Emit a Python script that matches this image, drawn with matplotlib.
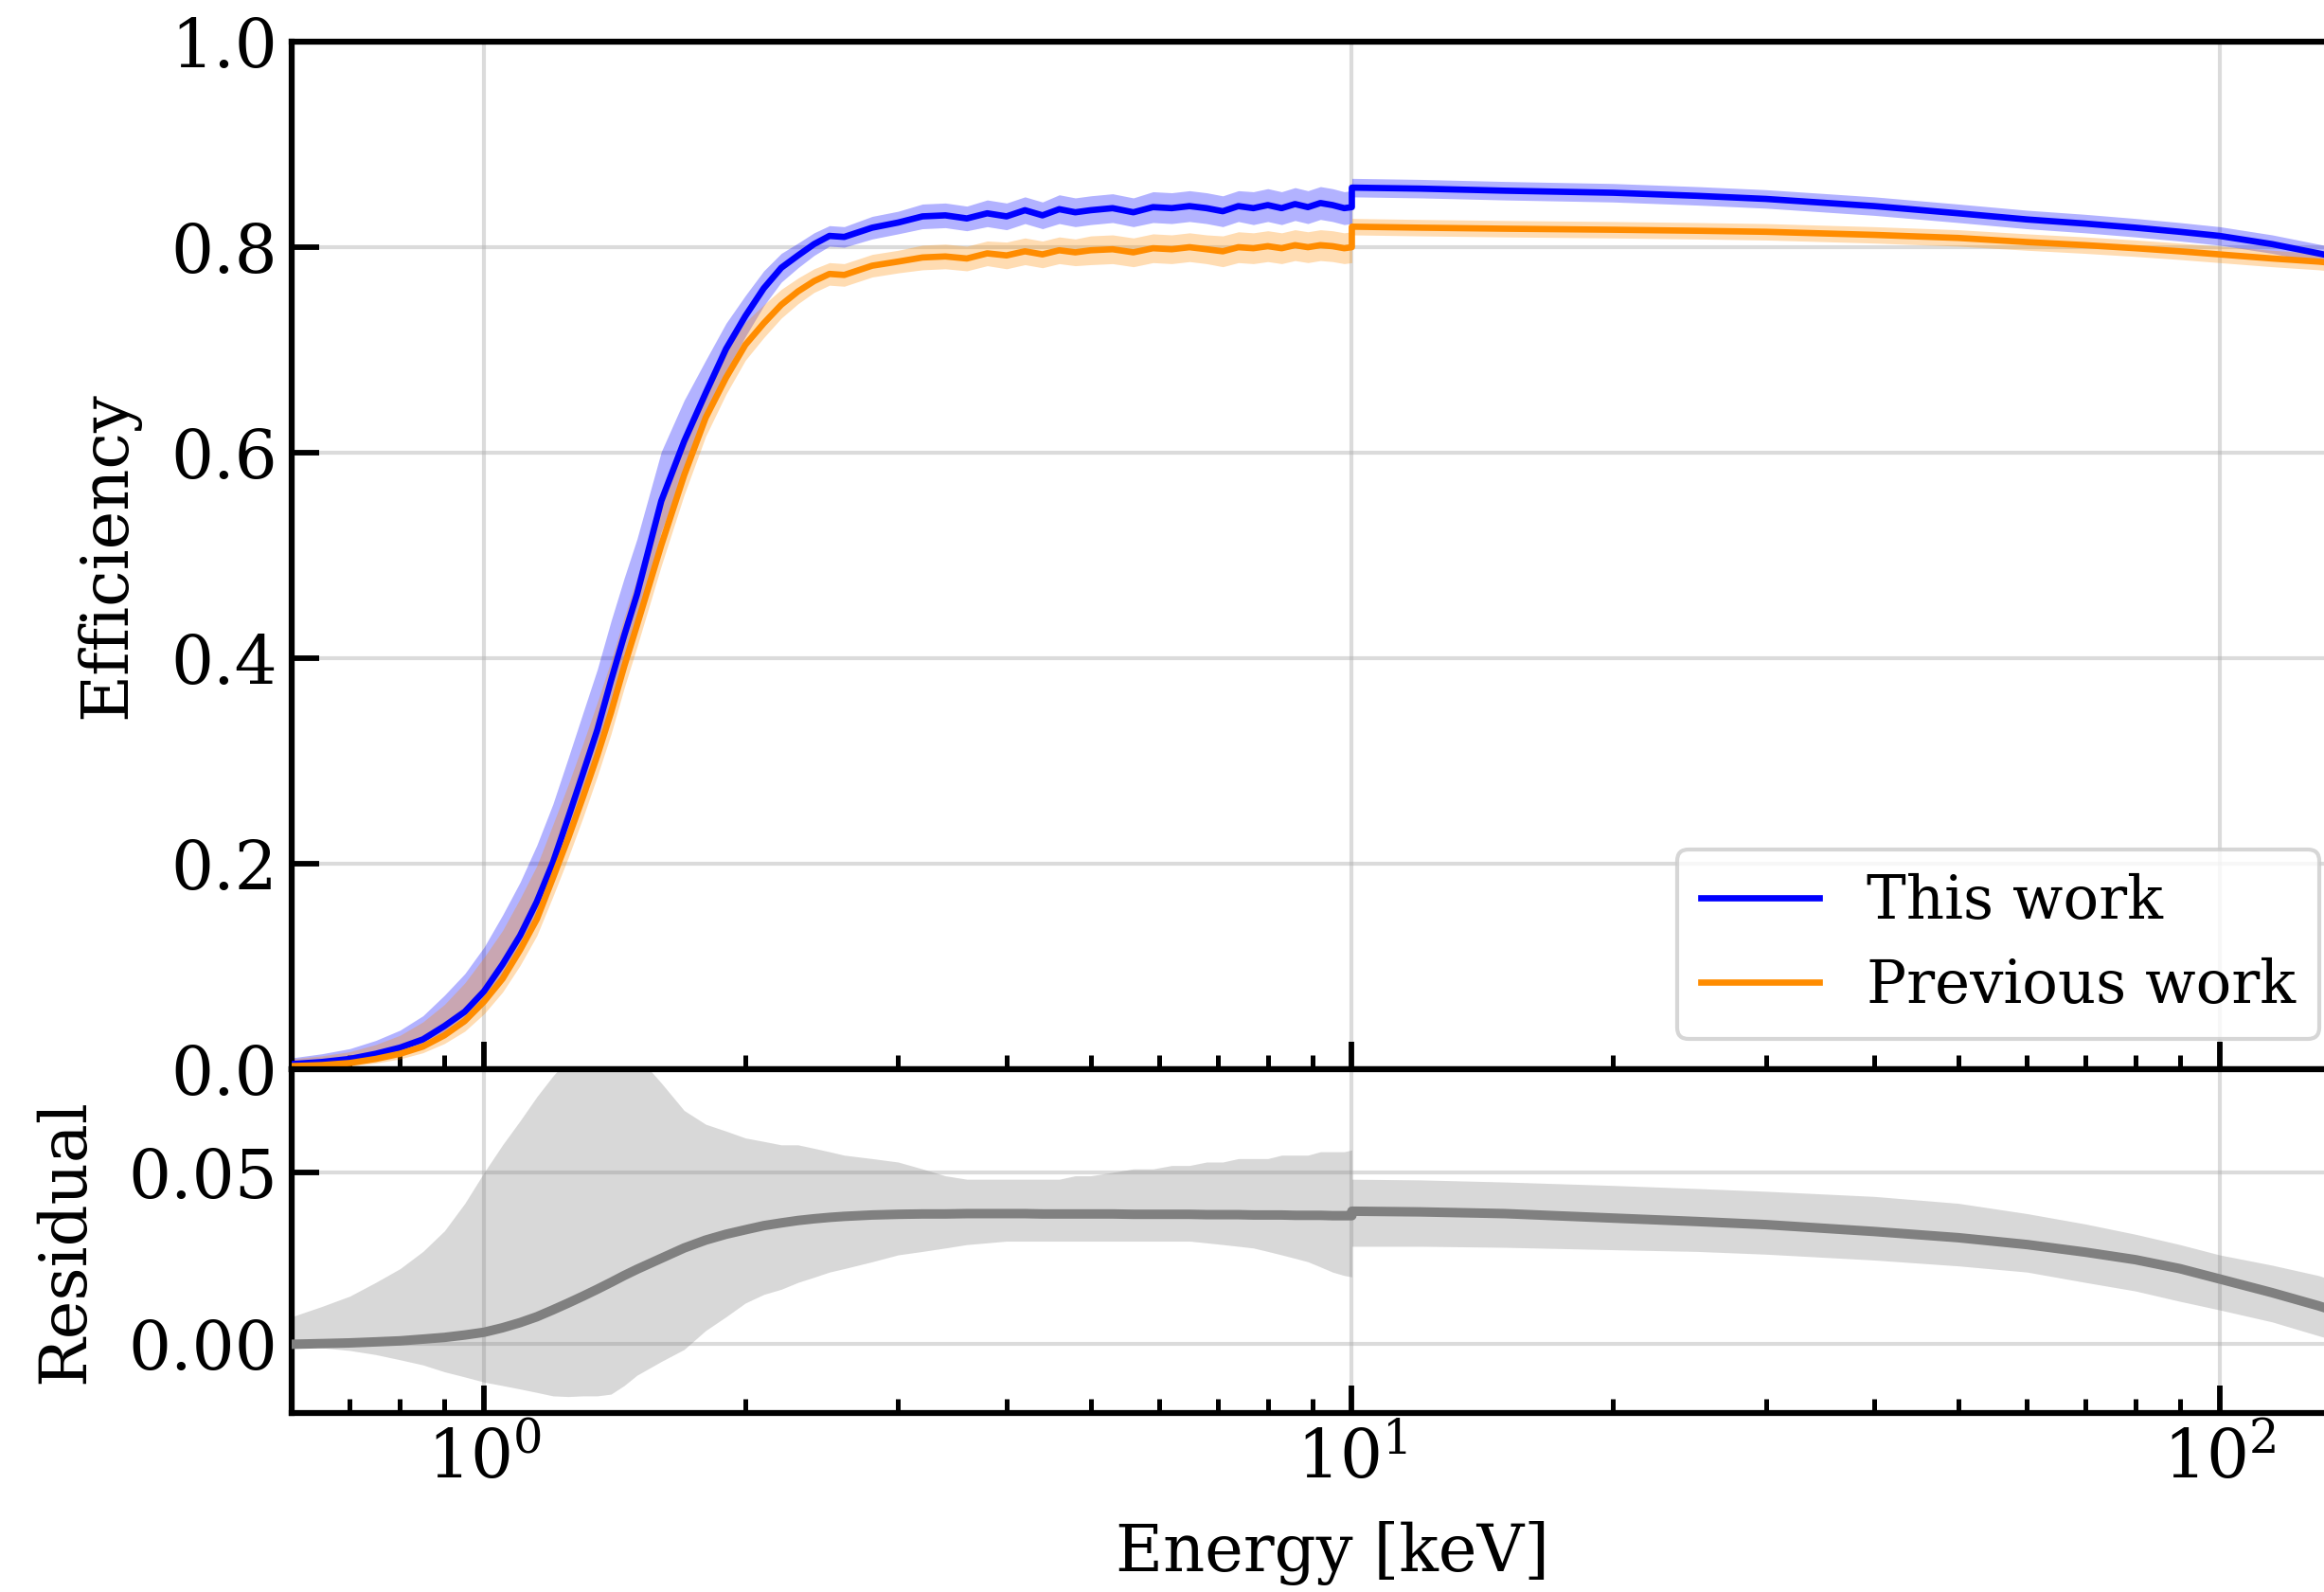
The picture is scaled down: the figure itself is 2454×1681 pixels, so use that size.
#
# Detection efficiency vs energy, with residual panel
#
import numpy as np
import matplotlib
matplotlib.use('Agg')
import matplotlib.pyplot as plt

plt.rcParams['font.family'] = 'serif'
plt.rcParams['font.serif'] = ['DejaVu Serif']
plt.rcParams['mathtext.fontset'] = 'dejavuserif'
plt.rcParams['font.size'] = 17
plt.rcParams['axes.labelsize'] = 16.5


# Energy grid [keV] (10 keV appears twice: the curves jump there)
energy = [0.60, 0.65, 0.70, 0.75, 0.80, 0.85, 0.90, 0.95, 1.00, 1.05, 1.10, 1.15, 1.20, 1.25, 1.30, 1.35, 1.40, 1.45, 1.50,
          1.6, 1.7, 1.8, 1.9, 2.0, 2.1, 2.2, 2.3, 2.4, 2.5, 2.6,
          2.8, 3.0, 3.2, 3.4, 3.6, 3.8, 4.0, 4.2, 4.4, 4.6, 4.8,
          5.0, 5.3, 5.6, 5.9, 6.2, 6.5, 6.8, 7.1, 7.4, 7.7, 8.0, 8.3, 8.6, 8.9, 9.2, 9.5, 9.8, 10.0,
          10.0, 12, 15, 20, 25, 30, 40, 50, 60, 70, 80, 90, 100, 115, 130, 150]

# This work
this_work = [0.005, 0.007, 0.010, 0.015, 0.021, 0.029, 0.042, 0.056, 0.076, 0.102, 0.130, 0.163, 0.201, 0.245, 0.288, 0.330, 0.378, 0.422, 0.462,
             0.553, 0.611, 0.658, 0.701, 0.733, 0.760, 0.780, 0.792, 0.803, 0.811, 0.810,
             0.819, 0.824, 0.830, 0.831, 0.828, 0.833, 0.830, 0.836, 0.831, 0.837, 0.834,
             0.836, 0.838, 0.834, 0.839, 0.838, 0.840, 0.838, 0.835, 0.840, 0.838, 0.841, 0.838, 0.842, 0.839, 0.843, 0.841, 0.838, 0.839,
             0.858, 0.857, 0.855, 0.853, 0.850, 0.847, 0.840, 0.833, 0.827, 0.823, 0.819, 0.815, 0.811, 0.803, 0.794, 0.783]
this_err_hi = [0.006, 0.008, 0.010, 0.013, 0.017, 0.023, 0.030, 0.037, 0.043, 0.048, 0.052, 0.055, 0.057, 0.058, 0.059, 0.059, 0.058, 0.056, 0.054,
               0.048, 0.040, 0.032, 0.025, 0.020, 0.017, 0.014, 0.012, 0.011, 0.010, 0.010,
               0.011, 0.011, 0.012, 0.012, 0.012, 0.013, 0.013, 0.013, 0.013, 0.014, 0.014,
               0.014, 0.014, 0.014, 0.015, 0.015, 0.015, 0.015, 0.015, 0.015, 0.016, 0.016, 0.016, 0.016, 0.016, 0.016, 0.016, 0.016, 0.016,
               0.009, 0.009, 0.009, 0.009, 0.009, 0.009, 0.009, 0.009, 0.009, 0.009, 0.009, 0.009, 0.009, 0.009, 0.009, 0.009]
this_err_lo = [0.003, 0.004, 0.005, 0.006, 0.007, 0.009, 0.011, 0.012, 0.013, 0.015, 0.016, 0.018, 0.018, 0.020, 0.022, 0.024, 0.026, 0.027, 0.028,
               0.030, 0.030, 0.025, 0.022, 0.020, 0.017, 0.014, 0.012, 0.011, 0.010, 0.010,
               0.011, 0.011, 0.012, 0.012, 0.012, 0.013, 0.013, 0.013, 0.013, 0.014, 0.014,
               0.014, 0.014, 0.014, 0.015, 0.015, 0.015, 0.015, 0.015, 0.015, 0.016, 0.016, 0.016, 0.016, 0.016, 0.016, 0.016, 0.016, 0.016,
               0.009, 0.009, 0.009, 0.009, 0.009, 0.009, 0.009, 0.009, 0.009, 0.009, 0.009, 0.009, 0.009, 0.009, 0.009, 0.009]

# Previous work
prev_work = [0.003, 0.004, 0.006, 0.010, 0.015, 0.022, 0.033, 0.047, 0.066, 0.088, 0.116, 0.146, 0.186, 0.225, 0.265, 0.305, 0.347, 0.392, 0.432,
             0.510, 0.578, 0.634, 0.673, 0.705, 0.726, 0.744, 0.757, 0.767, 0.774, 0.773,
             0.782, 0.786, 0.790, 0.791, 0.789, 0.794, 0.792, 0.796, 0.793, 0.797, 0.795,
             0.797, 0.798, 0.795, 0.799, 0.798, 0.800, 0.798, 0.796, 0.800, 0.799, 0.801, 0.799, 0.802, 0.800, 0.802, 0.801, 0.799, 0.800,
             0.820, 0.819, 0.818, 0.817, 0.816, 0.815, 0.812, 0.809, 0.805, 0.802, 0.799, 0.796, 0.793, 0.789, 0.786, 0.781]
prev_err_hi = [0.007, 0.009, 0.011, 0.014, 0.018, 0.024, 0.030, 0.037, 0.043, 0.047, 0.050, 0.052, 0.052, 0.052, 0.052, 0.052, 0.050, 0.048, 0.046,
               0.042, 0.036, 0.030, 0.026, 0.022, 0.018, 0.015, 0.013, 0.012, 0.011, 0.011,
               0.011, 0.011, 0.012, 0.012, 0.012, 0.012, 0.013, 0.013, 0.013, 0.013, 0.013,
               0.014, 0.014, 0.014, 0.014, 0.014, 0.014, 0.014, 0.015, 0.015, 0.015, 0.015, 0.015, 0.015, 0.015, 0.015, 0.015, 0.015, 0.015,
               0.008, 0.008, 0.008, 0.008, 0.008, 0.008, 0.008, 0.008, 0.008, 0.008, 0.008, 0.008, 0.008, 0.008, 0.008, 0.008]
prev_err_lo = [0.002, 0.002, 0.003, 0.004, 0.005, 0.006, 0.008, 0.010, 0.012, 0.013, 0.015, 0.016, 0.018, 0.019, 0.020, 0.020, 0.021, 0.021, 0.021,
               0.020, 0.019, 0.018, 0.016, 0.015, 0.014, 0.013, 0.012, 0.011, 0.011, 0.011,
               0.011, 0.011, 0.012, 0.012, 0.012, 0.012, 0.013, 0.013, 0.013, 0.013, 0.013,
               0.014, 0.014, 0.014, 0.014, 0.014, 0.014, 0.014, 0.015, 0.015, 0.015, 0.015, 0.015, 0.015, 0.015, 0.015, 0.015, 0.015, 0.015,
               0.008, 0.008, 0.008, 0.008, 0.008, 0.008, 0.008, 0.008, 0.008, 0.008, 0.008, 0.008, 0.008, 0.008, 0.008, 0.008]

# Residual (this work - previous work) and its band
resid = [0.0000, 0.0002, 0.0004, 0.0007, 0.0010, 0.0015, 0.0020, 0.0027, 0.0035, 0.0048, 0.0063, 0.0080, 0.0100, 0.0120, 0.0140, 0.0160, 0.0180, 0.0200, 0.0218,
         0.0250, 0.0280, 0.0303, 0.0320, 0.0333, 0.0345, 0.0353, 0.0360, 0.0365, 0.0369, 0.0372,
         0.0376, 0.0378, 0.0379, 0.0379, 0.0380, 0.0380, 0.0380, 0.0380, 0.0379, 0.0379, 0.0379,
         0.0379, 0.0379, 0.0378, 0.0378, 0.0378, 0.0378, 0.0377, 0.0377, 0.0377, 0.0376, 0.0376, 0.0376, 0.0375, 0.0375, 0.0375, 0.0374, 0.0374, 0.0374,
         0.0387, 0.0385, 0.0380, 0.0367, 0.0357, 0.0348, 0.0328, 0.0310, 0.0290, 0.0268, 0.0246, 0.0220, 0.0190, 0.0150, 0.0112, 0.0062]
resid_hi = [0.008, 0.011, 0.014, 0.018, 0.022, 0.027, 0.033, 0.041, 0.050, 0.058, 0.065, 0.072, 0.078, 0.083, 0.087, 0.089, 0.090, 0.088, 0.084,
            0.076, 0.068, 0.064, 0.062, 0.060, 0.059, 0.058, 0.058, 0.057, 0.056, 0.055,
            0.054, 0.053, 0.051, 0.049, 0.048, 0.048, 0.048, 0.048, 0.048, 0.048, 0.049,
            0.049, 0.050, 0.051, 0.051, 0.052, 0.052, 0.053, 0.053, 0.054, 0.054, 0.054, 0.055, 0.055, 0.055, 0.056, 0.056, 0.056, 0.0565,
            0.048, 0.0478, 0.0472, 0.0462, 0.0453, 0.0445, 0.043, 0.041, 0.038, 0.035, 0.032, 0.029, 0.026, 0.023, 0.020, 0.015]
resid_lo = [0.000, -0.001, -0.0018, -0.003, -0.0045, -0.006, -0.008, -0.0095, -0.011, -0.012, -0.013, -0.014, -0.015, -0.0152, -0.015, -0.015, -0.0145, -0.012, -0.009,
            -0.005, -0.0015, 0.004, 0.008, 0.012, 0.0145, 0.016, 0.018, 0.0195, 0.021, 0.022,
            0.024, 0.026, 0.027, 0.028, 0.029, 0.0295, 0.030, 0.030, 0.030, 0.030, 0.030,
            0.030, 0.030, 0.030, 0.030, 0.030, 0.030, 0.0295, 0.029, 0.0285, 0.028, 0.027, 0.026, 0.025, 0.024, 0.0225, 0.021, 0.020, 0.0196,
            0.0285, 0.0285, 0.0282, 0.0275, 0.027, 0.0262, 0.0245, 0.0228, 0.021, 0.018, 0.0155, 0.0125, 0.0100, 0.0065, 0.0025, -0.002]

E = np.array(energy)
eff1 = np.array(this_work)
eff2 = np.array(prev_work)


# Figure: two stacked panels, no gap, right edge runs past the canvas
fig = plt.figure(figsize=(2454/300, 1681/300), dpi=300)
ax1 = fig.add_axes([0.1255, 0.3284, 0.8953, 0.6454])
ax2 = fig.add_axes([0.1255, 0.1124, 0.8953, 0.2160], sharex=ax1)

ax1.fill_between(E, eff1 - np.array(this_err_lo), eff1 + np.array(this_err_hi),
                 color='blue', alpha=0.3, lw=0, zorder=2)
ax1.fill_between(E, eff2 - np.array(prev_err_lo), eff2 + np.array(prev_err_hi),
                 color='darkorange', alpha=0.3, lw=0, zorder=2)
ax1.plot(E, eff1, color='blue', lw=1.6, label='This work', zorder=3)
ax1.plot(E, eff2, color='darkorange', lw=1.6, label='Previous work', zorder=3)

ax2.fill_between(E, resid_lo, resid_hi, color='gray', alpha=0.3, lw=0, zorder=2)
ax2.plot(E, resid, color='gray', lw=2.4, zorder=3)

ax1.set_xscale('log')
ax1.set_xlim(0.6, 150)
ax1.set_ylim(0, 1.0)
ax1.set_yticks([0.0, 0.2, 0.4, 0.6, 0.8, 1.0])
ax2.set_ylim(-0.02, 0.08)
ax2.set_yticks([0.0, 0.05])

ax1.set_ylabel('Efficiency', labelpad=8)
ax2.set_ylabel('Residual', labelpad=8)
ax2.set_xlabel('Energy [keV]', labelpad=7)
ax1.tick_params(labelbottom=False)

for ax in [ax1, ax2]:
    ax.set_axisbelow(True)
    ax.grid(True, which='major', color='#b0b0b0', alpha=0.45, lw=1.0)
    ax.tick_params(which='major', direction='in', length=7, width=1.4, top=False, right=False)
    ax.tick_params(which='minor', direction='in', length=3.5, width=1.2, top=False, right=False)
    for s in ax.spines.values():
        s.set_linewidth(1.5)

ax1.legend(loc='lower right', bbox_to_anchor=(0.998, 0.3474), bbox_transform=fig.transFigure,
           borderaxespad=0, fontsize=15, labelspacing=0.45)

plt.savefig('out.png', dpi=300)
plt.close(fig)
